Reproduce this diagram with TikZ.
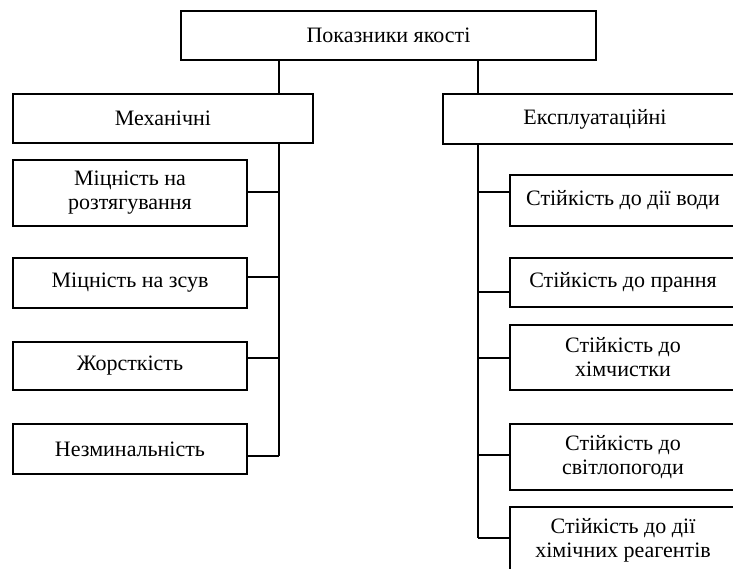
\documentclass[tikz,border=0pt]{standalone}
\usepackage{fontspec}
\setmainfont{Liberation Serif}
\tikzset{
  box/.style={draw, line width=1.2pt, rectangle, align=center, inner sep=0pt,
              font=\fontsize{22}{24}\selectfont},
  link/.style={line width=1.2pt},
}
\begin{document}
\begin{tikzpicture}[x=1pt, y=-1pt]
  \useasboundingbox (0,0) rectangle (733,569);
  \fill[white] (0,0) rectangle (733,569);
  \clip (0,0) rectangle (733,569);

  % root and the two groups
  \node[box, minimum width=415pt, minimum height=49pt] (root) at (388.5,35.5) {Показники якості};
  \node[box, minimum width=300pt, minimum height=49pt] (mech) at (163,118.5) {Механічні};
  \node[box, minimum width=304pt, minimum height=50pt] (expl) at (595,119) {Експлуатаційні};

  % mechanical indicators
  \node[box, minimum width=234pt, minimum height=66pt] (m1) at (130,193) {Міцність на\\розтягування};
  \node[box, minimum width=234pt, minimum height=50pt] (m2) at (130,283) {Міцність на зсув};
  \node[box, minimum width=234pt, minimum height=48pt] (m3) at (130,366) {Жорсткість};
  \node[box, minimum width=234pt, minimum height=50pt] (m4) at (130,449) {Незминальність};

  % operational indicators
  \node[box, minimum width=226pt, minimum height=51pt] (e1) at (623,200.5) {Стійкість до дії води};
  \node[box, minimum width=226pt, minimum height=49pt] (e2) at (623,282.5) {Стійкість до прання};
  \node[box, minimum width=226pt, minimum height=65pt] (e3) at (623,357.5) {Стійкість до\\хімчистки};
  \node[box, minimum width=226pt, minimum height=66pt] (e4) at (623,457) {Стійкість до\\світлопогоди};
  \node[box, minimum width=226pt, minimum height=66pt] (e5) at (623,540) {Стійкість до дії\\хімічних реагентів};

  % trunk columns and branch points
  \coordinate (lx) at (279,0);
  \coordinate (rx) at (478,0);
  \coordinate (l1) at (279,192);
  \coordinate (l2) at (279,277);
  \coordinate (l3) at (279,358);
  \coordinate (l4) at (279,456);
  \coordinate (r1) at (478,192);
  \coordinate (r2) at (478,292);
  \coordinate (r3) at (478,358);
  \coordinate (r4) at (478,455);
  \coordinate (r5) at (478,538);

  % root to groups
  \draw[link] (root.south -| lx) -- (mech.north -| lx);
  \draw[link] (root.south -| rx) -- (expl.north -| rx);

  % mechanical branch
  \draw[link] (mech.south -| lx) -- (l4);
  \draw[link] (l1) -- (l1 -| m1.east);
  \draw[link] (l2) -- (l2 -| m2.east);
  \draw[link] (l3) -- (l3 -| m3.east);
  \draw[link] (l4) -- (l4 -| m4.east);

  % operational branch
  \draw[link] (expl.south -| rx) -- (r5);
  \draw[link] (r1) -- (r1 -| e1.west);
  \draw[link] (r2) -- (r2 -| e2.west);
  \draw[link] (r3) -- (r3 -| e3.west);
  \draw[link] (r4) -- (r4 -| e4.west);
  \draw[link] (r5) -- (r5 -| e5.west);
\end{tikzpicture}
\end{document}
